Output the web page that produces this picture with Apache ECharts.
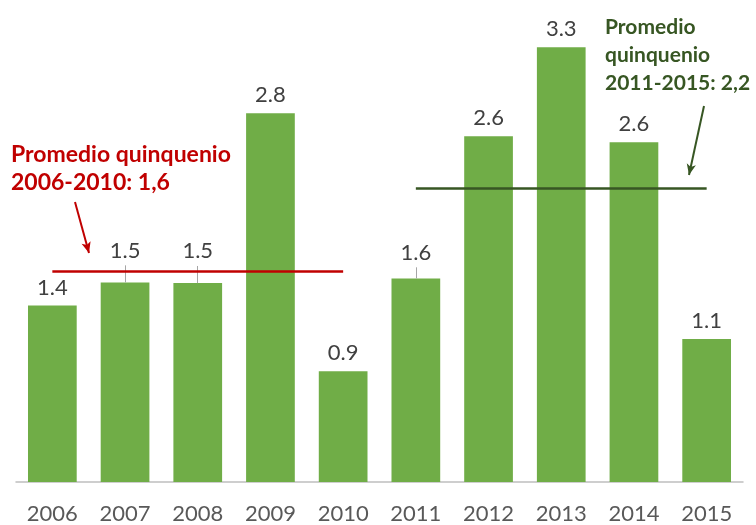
<!DOCTYPE html>
<html>
<head>
<meta charset="utf-8">
<script src="https://cdn.jsdelivr.net/npm/echarts@6/dist/echarts.min.js"></script>
<style>
  html, body { margin: 0; padding: 0; background: #fff; }
  #chart { width: 756px; height: 525px; }
</style>
</head>
<body>
<div id="chart"></div>
<script>
const years = ['2006', '2007', '2008', '2009', '2010', '2011', '2012', '2013', '2014', '2015'];
const values = [1.34, 1.515, 1.51, 2.8, 0.84, 1.545, 2.625, 3.3, 2.58, 1.085];
const valueLabels = ['1.4', '1.5', '1.5', '2.8', '0.9', '1.6', '2.6', '3.3', '2.6', '1.1'];
// labels lifted above the average line, with a leader line down to the bar
const liftedLabels = ['2007', '2008', '2011'];
const liftedDistance = [21, 21, 15];
const leaderLength = [0.13, 0.13, 0.085];

const mean = arr => arr.reduce((a, b) => a + b, 0) / arr.length;
const avgFirst = mean(values.slice(0, 5));
const avgSecond = mean(values.slice(5, 10));

const chartDom = document.getElementById('chart');
const myChart = echarts.init(chartDom);

const barData = values.map((v, i) => {
    const k = liftedLabels.indexOf(years[i]);
    if (k >= 0) {
        return { value: v, label: { distance: liftedDistance[k] } };
    }
    return v;
});

const leaderLines = liftedLabels.map((y, k) => {
    const v = values[years.indexOf(y)];
    return [
        { coord: [y, v] },
        { coord: [y, v + leaderLength[k]] }
    ];
});

const option = {
    animation: false,
    grid: { left: 16, right: 13, top: 21, bottom: 43 },
    xAxis: {
        type: 'category',
        data: years,
        axisTick: { show: false },
        axisLine: { lineStyle: { color: '#BFBFBF', width: 1.5 } },
        axisLabel: {
            color: '#595959',
            fontSize: 22,
            fontFamily: 'Lato',
            margin: 21
        }
    },
    yAxis: {
        type: 'value',
        min: 0,
        max: 3.5,
        show: false,
        splitLine: { show: false }
    },
    series: [
        {
            type: 'bar',
            data: barData,
            barWidth: '67%',
            itemStyle: { color: '#70AD47' },
            label: {
                show: true,
                position: 'top',
                distance: 7,
                color: '#404040',
                fontSize: 22,
                fontFamily: 'Lato',
                formatter: p => valueLabels[p.dataIndex]
            },
            markLine: {
                silent: true,
                symbol: 'none',
                label: { show: false },
                lineStyle: { color: '#A6A6A6', width: 1, type: 'solid' },
                data: leaderLines
            }
        },
        {
            type: 'line',
            data: [],
            markLine: {
                silent: true,
                symbol: 'none',
                label: { show: false },
                data: [
                    [
                        { coord: ['2006', avgFirst], lineStyle: { color: '#C00000', width: 2.5, type: 'solid' } },
                        { coord: ['2010', avgFirst] }
                    ],
                    [
                        { coord: ['2011', avgSecond], lineStyle: { color: '#375623', width: 2.5, type: 'solid' } },
                        { coord: ['2015', avgSecond] }
                    ],
                    [
                        { x: 75, y: 202, symbol: 'none', lineStyle: { color: '#C00000', width: 2, type: 'solid' } },
                        { x: 89, y: 253, symbol: 'arrow', symbolSize: [7, 11] }
                    ],
                    [
                        { x: 704, y: 106, symbol: 'none', lineStyle: { color: '#375623', width: 2, type: 'solid' } },
                        { x: 689, y: 175, symbol: 'arrow', symbolSize: [7, 11] }
                    ]
                ]
            }
        }
    ],
    graphic: [
        {
            type: 'text',
            left: 11,
            top: 141,
            style: {
                text: 'Promedio quinquenio\n2006-2010: 1,6',
                fill: '#C00000',
                font: 'bold 23px Lato',
                lineHeight: 28
            }
        },
        {
            type: 'text',
            left: 605,
            top: 13,
            style: {
                text: 'Promedio\nquinquenio\n2011-2015: 2,2',
                fill: '#375623',
                font: 'bold 21px Lato',
                lineHeight: 28
            }
        }
    ]
};

myChart.setOption(option);
</script>
</body>
</html>
